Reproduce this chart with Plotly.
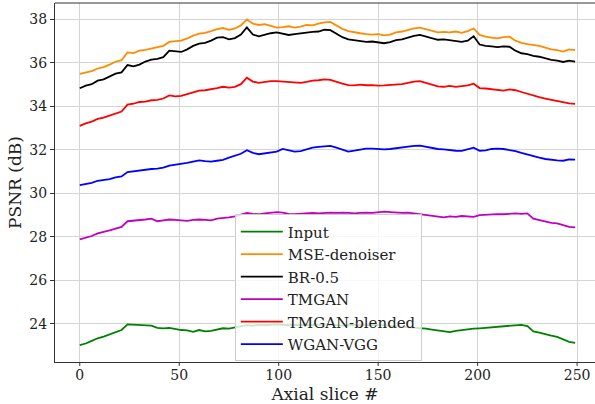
import plotly.graph_objects as go

slices = list(range(0, 250, 3))

names = ["Input", "MSE-denoiser", "BR-0.5", "TMGAN", "TMGAN-blended", "WGAN-VGG"]
colors = ["#008000", "#ff8c00", "#000000", "#bf00bf", "#ff0000", "#0000ff"]

input_psnr = [23.03, 23.10, 23.22, 23.34, 23.42, 23.52, 23.62, 23.72, 23.98, 23.96,
              23.96, 23.94, 23.92, 23.82, 23.80, 23.82, 23.76, 23.72, 23.70, 23.64,
              23.72, 23.66, 23.68, 23.74, 23.80, 23.78, 23.84, 23.90, 23.94, 23.92,
              23.96, 23.94, 23.96, 23.98, 23.96, 23.94, 23.96, 23.95, 23.94, 23.96,
              23.95, 23.98, 23.96, 23.94, 23.92, 23.94, 23.96, 23.94, 23.96, 23.95,
              23.96, 23.94, 23.92, 23.90, 23.88, 23.86, 23.84, 23.80, 23.78, 23.74,
              23.70, 23.64, 23.62, 23.68, 23.72, 23.74, 23.78, 23.80, 23.82, 23.86,
              23.88, 23.90, 23.92, 23.94, 23.96, 23.90, 23.66, 23.60, 23.52, 23.46,
              23.40, 23.30, 23.18, 23.13]

mse_psnr = [35.49, 35.55, 35.62, 35.74, 35.80, 35.92, 36.05, 36.12, 36.48, 36.45,
            36.56, 36.60, 36.66, 36.70, 36.78, 36.96, 37.00, 37.02, 37.12, 37.25,
            37.34, 37.38, 37.46, 37.55, 37.60, 37.52, 37.58, 37.72, 38.00, 37.80,
            37.74, 37.78, 37.70, 37.62, 37.64, 37.68, 37.62, 37.66, 37.74, 37.72,
            37.80, 37.86, 37.88, 37.70, 37.56, 37.46, 37.40, 37.36, 37.32, 37.30,
            37.32, 37.26, 37.30, 37.40, 37.44, 37.52, 37.58, 37.62, 37.55, 37.50,
            37.40, 37.42, 37.40, 37.44, 37.38, 37.46, 37.58, 37.28, 37.20, 37.16,
            37.12, 37.18, 37.20, 37.02, 36.92, 36.86, 36.82, 36.78, 36.70, 36.62,
            36.58, 36.52, 36.62, 36.58]

br_psnr = [34.83, 34.95, 35.02, 35.18, 35.24, 35.36, 35.50, 35.56, 35.90, 35.84,
           35.92, 36.06, 36.15, 36.18, 36.26, 36.56, 36.52, 36.50, 36.62, 36.78,
           36.88, 36.92, 37.02, 37.16, 37.18, 37.08, 37.14, 37.30, 37.63, 37.30,
           37.22, 37.30, 37.36, 37.40, 37.34, 37.28, 37.32, 37.36, 37.38, 37.42,
           37.44, 37.52, 37.50, 37.34, 37.18, 37.08, 37.04, 37.00, 36.96, 36.98,
           36.94, 36.90, 36.95, 37.04, 37.08, 37.16, 37.24, 37.28, 37.20, 37.12,
           37.06, 37.08, 37.04, 37.00, 36.96, 37.02, 37.22, 36.84, 36.78, 36.76,
           36.72, 36.76, 36.74, 36.56, 36.44, 36.40, 36.32, 36.28, 36.20, 36.14,
           36.10, 36.04, 36.10, 36.06]

tmgan_psnr = [27.89, 27.96, 28.04, 28.16, 28.22, 28.30, 28.38, 28.46, 28.72, 28.74,
              28.78, 28.80, 28.84, 28.72, 28.76, 28.80, 28.78, 28.76, 28.74, 28.78,
              28.80, 28.78, 28.76, 28.84, 28.86, 28.90, 28.94, 29.02, 29.10, 29.06,
              29.04, 29.08, 29.10, 29.14, 29.12, 29.06, 29.04, 29.06, 29.08, 29.10,
              29.08, 29.10, 29.12, 29.10, 29.12, 29.10, 29.08, 29.10, 29.12, 29.10,
              29.12, 29.16, 29.14, 29.12, 29.10, 29.12, 29.08, 29.05, 29.00, 28.98,
              28.93, 28.90, 28.94, 28.92, 28.96, 28.94, 28.92, 29.00, 29.02, 29.04,
              29.05, 29.04, 29.06, 29.08, 29.06, 29.08, 28.84, 28.78, 28.70, 28.64,
              28.62, 28.54, 28.46, 28.44]

blended_psnr = [33.10, 33.22, 33.30, 33.42, 33.48, 33.58, 33.68, 33.76, 34.08, 34.12,
                34.20, 34.22, 34.28, 34.30, 34.36, 34.50, 34.46, 34.48, 34.56, 34.64,
                34.72, 34.74, 34.78, 34.84, 34.90, 34.86, 34.90, 35.02, 35.32, 35.14,
                35.08, 35.12, 35.16, 35.16, 35.14, 35.12, 35.10, 35.08, 35.12, 35.18,
                35.20, 35.24, 35.22, 35.12, 35.04, 34.98, 34.96, 35.00, 34.97, 34.98,
                34.95, 34.96, 34.98, 35.00, 35.02, 35.08, 35.14, 35.16, 35.08, 34.98,
                34.92, 34.90, 34.94, 34.90, 34.93, 34.96, 35.04, 34.84, 34.82, 34.78,
                34.75, 34.72, 34.78, 34.74, 34.66, 34.58, 34.48, 34.42, 34.36, 34.30,
                34.26, 34.20, 34.14, 34.11]

wgan_psnr = [30.38, 30.44, 30.48, 30.58, 30.62, 30.66, 30.74, 30.78, 30.98, 31.02,
             31.06, 31.10, 31.12, 31.14, 31.18, 31.28, 31.32, 31.34, 31.40, 31.46,
             31.52, 31.48, 31.46, 31.50, 31.54, 31.64, 31.74, 31.82, 31.98, 31.86,
             31.80, 31.84, 31.88, 31.92, 32.04, 31.98, 31.92, 31.94, 32.02, 32.10,
             32.14, 32.16, 32.18, 32.10, 32.00, 31.92, 31.96, 32.00, 32.06, 32.06,
             32.04, 32.02, 32.04, 32.08, 32.10, 32.14, 32.18, 32.19, 32.14, 32.08,
             32.04, 32.02, 31.98, 31.96, 31.95, 32.02, 32.10, 31.96, 31.98, 32.04,
             32.06, 32.04, 32.00, 31.94, 31.86, 31.78, 31.70, 31.64, 31.58, 31.54,
             31.52, 31.50, 31.56, 31.55]

series = [input_psnr, mse_psnr, br_psnr, tmgan_psnr, blended_psnr, wgan_psnr]

x_ticks = [0, 50, 100, 150, 200, 250]
y_ticks = [24, 26, 28, 30, 32, 34, 36, 38]

fig = go.Figure()
for i, (name, col, vals) in enumerate(zip(names, colors, series)):
    fig.add_trace(go.Scatter(x=slices, y=vals, mode="lines", name=name,
                             line=dict(color=col, width=1.8),
                             legendgroup=f"g{i}"))

font = dict(family="DejaVu Serif", size=14, color="#222222")
fig.update_layout(
    width=595, height=404,
    margin=dict(l=55, r=0, t=3, b=42),
    paper_bgcolor="white", plot_bgcolor="white",
    font=font,
    showlegend=True,
    legend=dict(x=0.333, y=0.411, xanchor="left", yanchor="top",
                bgcolor="rgba(255,255,255,0.8)", bordercolor="#cccccc", borderwidth=1,
                font=dict(family="DejaVu Serif", size=15, color="#222222"),
                tracegroupgap=0, itemwidth=42, traceorder="normal"),
)
fig.update_xaxes(range=[-12.45, 259.0], tickvals=x_ticks, ticks="",
                 showgrid=True, gridcolor="#d4d4d4", gridwidth=1,
                 showline=True, linecolor="#333333", linewidth=1, zeroline=False,
                 title=dict(text="Axial slice #", standoff=6))
fig.update_yaxes(range=[22.25, 38.75], tickvals=y_ticks, ticks="outside", ticklen=4,
                 tickcolor="#333333", showgrid=True, gridcolor="#d4d4d4", gridwidth=1,
                 showline=True, linecolor="#333333", linewidth=1, zeroline=False,
                 mirror=False,
                 title=dict(text="PSNR (dB)", standoff=3))
# x tick marks drawn below the axis line
for t in x_ticks:
    fig.add_shape(type="line", xref="x", yref="paper", x0=t, x1=t, y0=0, y1=-0.011,
                  line=dict(color="#333333", width=1))
# top spine
fig.add_shape(type="line", xref="paper", yref="paper", x0=0, x1=1, y0=1, y1=1,
              line=dict(color="#333333", width=1))

fig.write_html("out.html")
